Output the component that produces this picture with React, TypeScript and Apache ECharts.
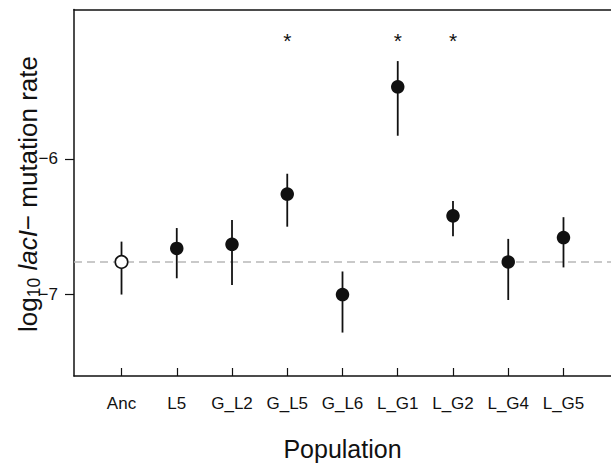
import React, { useEffect, useRef } from "react";
import * as echarts from "echarts";

const categories = ["Anc", "L5", "G_L2", "G_L5", "G_L6", "L_G1", "L_G2", "L_G4", "L_G5"];
const means = [-6.76, -6.66, -6.63, -6.26, -7.0, -5.47, -6.42, -6.76, -6.58];
const lows = [-7.0, -6.88, -6.93, -6.5, -7.28, -5.83, -6.57, -7.04, -6.8];
const highs = [-6.61, -6.51, -6.45, -6.11, -6.83, -5.28, -6.31, -6.59, -6.43];
const ancestralLevel = -6.76;
const significant = ["G_L5", "L_G1", "L_G2"];
const starLevel = -5.13;
const yTicks = [-6, -7];
const yRange = [-7.6, -4.9];
const xRange = [0.14, 9.86];

export default function App() {
  const ref = useRef<HTMLDivElement>(null);
  useEffect(() => {
    document.body.style.margin = "0";
    document.body.style.overflow = "hidden";
    document.documentElement.style.overflow = "hidden";
    const chart = echarts.init(ref.current!, null, { renderer: "svg" });
    const font = "'Liberation Sans', Arial, Helvetica, sans-serif";
    const ink = "#111111";
    const positions = categories.map((_, i) => i + 1);
    chart.setOption({
      animation: false,
      textStyle: { fontFamily: font },
      grid: {
        left: 74,
        top: 9.5,
        width: 538.5,
        height: 375.5,
        show: false,
      },
      xAxis: [
        {
          type: "value",
          min: xRange[0],
          max: xRange[1],
          splitLine: { show: false },
          axisLine: { show: true, lineStyle: { color: ink, width: 1.5 } },
          axisTick: {
            show: true,
            inside: true,
            length: 8,
            customValues: positions,
            lineStyle: { color: ink, width: 1.2 },
          },
          axisLabel: {
            customValues: positions,
            formatter: (v: number) => categories[Math.round(v) - 1] ?? "",
            fontSize: 17,
            color: ink,
            margin: 19,
            fontFamily: font,
          },
          name: "Population",
          nameLocation: "middle",
          nameGap: 60,
          nameTextStyle: { fontSize: 25, color: ink, fontFamily: font },
        },
        {
          type: "value",
          position: "top",
          min: xRange[0],
          max: xRange[1],
          splitLine: { show: false },
          axisLine: { show: true, lineStyle: { color: ink, width: 1.5 } },
          axisTick: { show: false },
          axisLabel: { show: false },
        },
      ],
      yAxis: {
        type: "value",
        min: yRange[0],
        max: yRange[1],
        splitLine: { show: false },
        axisLine: { show: true, lineStyle: { color: ink, width: 1.5 } },
        axisTick: {
          show: true,
          inside: false,
          length: 9,
          customValues: yTicks,
          lineStyle: { color: ink, width: 1.2 },
        },
        axisLabel: {
          customValues: yTicks,
          formatter: (v: number) => (v < 0 ? "\u2212" : "") + Math.abs(v),
          fontSize: 17,
          color: ink,
          margin: 16,
          fontFamily: font,
        },
      },
      graphic: [
        {
          type: "text",
          x: 28,
          y: 194,
          rotation: Math.PI / 2,
          style: {
            text: "{n|log}{s|10}{n| }{i|lacI}{n|\u2212 mutation rate}",
            align: "center",
            verticalAlign: "middle",
            fill: ink,
            rich: {
              n: { fontSize: 26, lineHeight: 30, fontFamily: font, fill: ink, verticalAlign: "middle" },
              i: { fontSize: 26, lineHeight: 30, fontFamily: font, fontStyle: "italic", fill: ink, verticalAlign: "middle" },
              s: { fontSize: 17.5, lineHeight: 17, fontFamily: font, fill: ink, verticalAlign: "bottom" },
            },
          },
        },
      ],
      series: [
        {
          type: "line",
          z: 0,
          silent: true,
          showSymbol: false,
          symbol: "none",
          data: [
            [xRange[0], ancestralLevel],
            [xRange[1], ancestralLevel],
          ],
          lineStyle: { type: [8, 5], color: "#b8b8b8", width: 1.5 },
        },
        {
          type: "custom",
          z: 1,
          data: categories.map((_, i) => [i + 1, lows[i], highs[i]]),
          encode: { x: 0, y: [1, 2] },
          renderItem: (params: any, api: any) => {
            const x = api.value(0);
            const p1 = api.coord([x, api.value(1)]);
            const p2 = api.coord([x, api.value(2)]);
            return {
              type: "line",
              shape: { x1: p1[0], y1: p1[1], x2: p2[0], y2: p2[1] },
              style: { stroke: ink, lineWidth: 1.8 },
            };
          },
        },
        {
          type: "scatter",
          z: 3,
          symbol: "circle",
          data: means.map((m, i) =>
            i === 0
              ? {
                  value: [i + 1, m],
                  symbolSize: 12.5,
                  itemStyle: { color: "#ffffff", borderColor: ink, borderWidth: 1.6, opacity: 1 },
                }
              : { value: [i + 1, m], symbolSize: 13.5, itemStyle: { color: ink, opacity: 1 } }
          ),
          itemStyle: { opacity: 1 },
        },
        {
          type: "custom",
          z: 4,
          data: significant.map((c) => [categories.indexOf(c) + 1, starLevel]),
          encode: { x: 0, y: 1 },
          renderItem: (params: any, api: any) => {
            const p = api.coord([api.value(0), api.value(1)]);
            return {
              type: "text",
              x: p[0],
              y: p[1],
              style: {
                text: "*",
                fontSize: 21,
                fontFamily: font,
                fill: ink,
                align: "center",
                verticalAlign: "middle",
              },
            };
          },
        },
      ],
    });
    return () => chart.dispose();
  }, []);
  return (
    <div
      ref={ref}
      style={{ width: 611, height: 466, position: "absolute", left: 0, top: 0, overflow: "hidden" }}
    />
  );
}
